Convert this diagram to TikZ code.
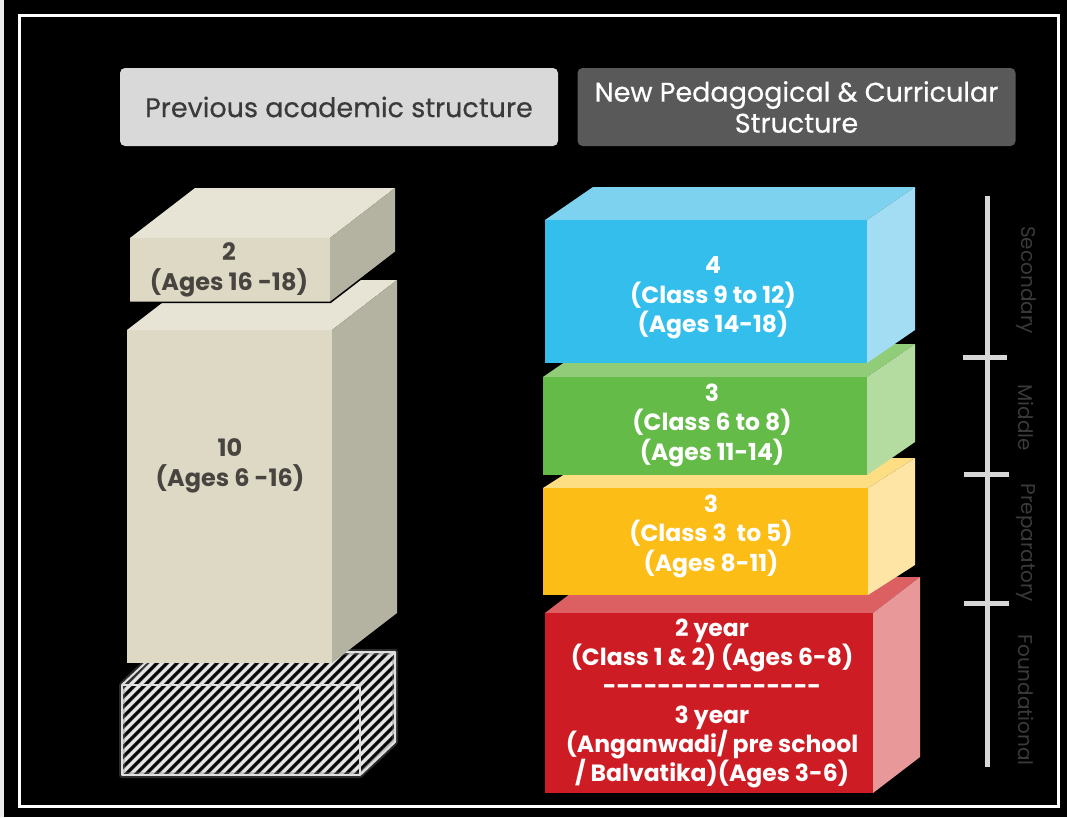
\documentclass[tikz,border=0pt]{standalone}
\usepackage{fontspec}
\setmainfont{Poppins}
\usetikzlibrary{calc}
\definecolor{creamF}{RGB}{221,217,197}
\definecolor{creamT}{RGB}{231,228,214}
\definecolor{creamS}{RGB}{180,178,160}
\definecolor{blueF}{RGB}{52,190,236}
\definecolor{blueT}{RGB}{125,210,240}
\definecolor{blueS}{RGB}{162,221,243}
\definecolor{greenF}{RGB}{100,187,72}
\definecolor{greenT}{RGB}{145,205,120}
\definecolor{greenS}{RGB}{180,220,160}
\definecolor{yelF}{RGB}{251,189,22}
\definecolor{yelT}{RGB}{253,222,130}
\definecolor{yelS}{RGB}{254,228,165}
\definecolor{redF}{RGB}{205,28,36}
\definecolor{redT}{RGB}{220,95,98}
\definecolor{redS}{RGB}{233,152,154}
\definecolor{hdrL}{RGB}{217,217,217}
\definecolor{hdrR}{RGB}{89,89,89}
\definecolor{hdrtxt}{RGB}{58,58,58}
\definecolor{creamtxt}{RGB}{72,68,64}
\definecolor{scaletxt}{RGB}{58,58,58}
\definecolor{scaleln}{RGB}{215,215,215}
% name, x1, y1, x2, y2, dx, dy, colour prefix
\newcommand\mycuboid[8]{%
  \fill[#8T] (#2,#3) -- ++(#6,#7) -- (#4+#6,#3+#7) -- (#4,#3) -- cycle;
  \fill[#8S] (#4,#3) -- ++(#6,#7) -- (#4+#6,#5+#7) -- (#4,#5) -- cycle;
  \node[fill=#8F, inner sep=0pt, anchor=north west,
        minimum width={(#4-#2)*1pt}, minimum height={(#5-#3)*1pt}] (#1) at (#2,#3) {};
}
\tikzset{
  hdr/.style={rounded corners=5pt, inner sep=0pt, minimum width=438pt, minimum height=78pt,
              align=center, font=\addfontfeature{FakeBold=0.5}\fontsize{27}{31}\selectfont},
  blocktxt/.style={align=center, text=white, font=\bfseries\fontsize{23.5}{29.5}\selectfont, inner sep=0pt},
  creamtext/.style={align=center, text=creamtxt, font=\bfseries\fontsize{24}{30}\selectfont, inner sep=0pt},
  scalelbl/.style={rotate=-90, text=scaletxt, font=\fontsize{20}{22}\selectfont, inner sep=0pt},
  scaleline/.style={draw=scaleln, line width=5pt},
  hatchline/.style={draw=white!80!gray, line width=3.2pt},
  hatchedge/.style={draw=white!75!gray, line width=2pt, line join=round},
}
\begin{document}
\begin{tikzpicture}[x=1pt,y=-1pt]
\useasboundingbox (0,0) rectangle (1067,817);
\fill[black] (0,0) rectangle (1067,817);
\fill[white!85!gray] (0,0) rectangle (4,817);
\draw[white, line width=3pt] (19,15) rectangle (1058,806);

% headers
\node[hdr, fill=hdrL, text=hdrtxt] (hprev) at (339,107) {Previous academic structure};
\node[hdr, fill=hdrR, text=white] (hnew) at (796.5,107) {New Pedagogical \& Curricular\\Structure};

% hatched (removed) block
\begin{scope}
  \clip (122,685) -- (157,652) -- (395,652) -- (395,742) -- (360,775) -- (122,775) -- cycle;
  \foreach \a in {-30,-20,...,400}
    \draw[gray, line width=5pt, opacity=0.35] (\a,785) -- (\a+140,645);
  \foreach \a in {-30,-20,...,400}
    \draw[hatchline] (\a,785) -- (\a+140,645);
\end{scope}
\draw[gray, line width=6pt, opacity=0.35, line join=round]
  (122,685) -- (157,652) -- (395,652) -- (395,742) -- (360,775) -- (122,775) -- cycle;
\draw[hatchedge] (122,685) rectangle (360,775);
\draw[hatchedge] (122,685) -- (157,652) -- (395,652) -- (360,685);
\draw[hatchedge] (395,652) -- (395,742) -- (360,775);

% previous structure blocks
\mycuboid{prevten}{127}{330}{332}{663}{65}{-50}{cream}
\mycuboid{prevtwo}{130}{238}{330}{302}{65}{-50}{cream}
\draw[black, line width=1.5pt] (prevtwo.south west) -- (prevtwo.south east) -- ++(65,-50);
\node[creamtext] (tprevtwo) at (229,270) {2\\(Ages 16 -18)};
\node[creamtext] (tprevten) at (230,466) {10\\(Ages 6 -16)};

% new structure blocks (bottom to top)
\mycuboid{found}{545}{613}{873}{793}{47}{-36}{red}
\mycuboid{prep}{543}{488}{868}{595}{47}{-30}{yel}
\mycuboid{mid}{543}{377}{867}{475}{48}{-33}{green}
\mycuboid{sec}{545}{220}{867}{363}{48}{-33}{blue}

\node[blocktxt] (tsec) at (713,298) {4\\(Class 9 to 12)\\(Ages 14-18)};
\node[blocktxt] (tmid) at (712,425) {3\\(Class 6 to 8)\\(Ages 11-14)};
\node[blocktxt] (tprep) at (711,536) {3\\(Class 3\ \ to 5)\\(Ages 8-11)};
\node[blocktxt, font=\bfseries\fontsize{23.5}{29}\selectfont] (tfound) at (712,703)
  {2 year\\(Class 1 \& 2) (Ages 6-8)\\-{}-{}-{}-{}-{}-{}-{}-{}-{}-{}-{}-{}-{}-{}-{}-\\3 year\\(Anganwadi/ pre school\\/ Balvatika)(Ages 3-6)};

% stage scale
\coordinate (stop) at (987,196);
\coordinate (sbot) at (987,767);
\draw[scaleline] (stop) -- (sbot);
\coordinate (k1l) at (963,357); \coordinate (k1r) at (1007,357);
\coordinate (k2l) at (964,474); \coordinate (k2r) at (1009,474);
\coordinate (k3l) at (964,603); \coordinate (k3r) at (1009,603);
\draw[scaleline] (k1l) -- (k1r);
\draw[scaleline] (k2l) -- (k2r);
\draw[scaleline] (k3l) -- (k3r);
\node[scalelbl] (lsec) at (1026,280) {Secondary};
\node[scalelbl] (lmid) at (1026,418) {Middle};
\node[scalelbl] (lprep) at (1026,543) {Preparatory};
\node[scalelbl] (lfound) at (1026,700) {Foundational};
\end{tikzpicture}
\end{document}
